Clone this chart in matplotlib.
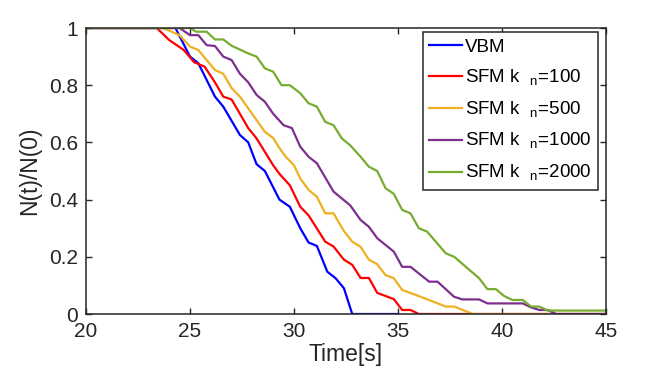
import matplotlib
matplotlib.use("Agg")
import matplotlib.pyplot as plt

plt.rcParams["font.family"] = ["Liberation Sans", "DejaVu Sans"]
plt.rcParams["mathtext.fontset"] = "custom"
plt.rcParams["mathtext.rm"] = "Liberation Sans"

# VBM
t_vbm = [20, 24.3, 25.0, 25.4, 26.2, 26.6, 27.4, 27.8, 28.2, 28.6, 29.3, 29.8,
         30.3, 30.7, 31.1, 31.6, 32.0, 32.4, 32.8, 35.0]
n_vbm = [1, 1, 0.90, 0.877, 0.76, 0.725, 0.626, 0.60, 0.524, 0.50, 0.40, 0.375,
         0.30, 0.25, 0.238, 0.148, 0.125, 0.09, 0, 0]

# SFM kn=100
t_100 = [20, 23.4, 24.0, 24.7, 25.2, 25.7, 26.2, 26.6, 27.0, 27.8, 28.2, 29.0,
         29.3, 29.8, 30.3, 30.7, 31.5, 31.9, 32.4, 32.8, 33.2, 33.6, 34.0, 34.8,
         35.2, 35.6, 36.0, 45]
n_100 = [1, 1, 0.958, 0.923, 0.88, 0.865, 0.81, 0.76, 0.75, 0.65, 0.614, 0.52,
         0.49, 0.45, 0.375, 0.345, 0.253, 0.236, 0.19, 0.172, 0.126, 0.126, 0.074, 0.052,
         0.014, 0.014, 0, 0]

# SFM kn=500
t_500 = [20, 23.7, 24.5, 25.0, 25.4, 26.2, 26.6, 27.0, 27.4, 28.2, 28.6, 29.0,
         29.3, 29.6, 30.0, 30.3, 30.7, 31.1, 31.5, 31.9, 32.4, 32.8, 33.2, 33.6,
         34.0, 34.4, 34.8, 35.2, 36.1, 37.3, 37.7, 38.6, 45]
n_500 = [1, 1, 0.975, 0.935, 0.923, 0.853, 0.84, 0.79, 0.76, 0.678, 0.637, 0.615,
         0.58, 0.55, 0.52, 0.474, 0.434, 0.41, 0.352, 0.352, 0.29, 0.253, 0.235, 0.19,
         0.174, 0.136, 0.125, 0.084, 0.06, 0.026, 0.026, 0, 0]

# SFM kn=1000
t_1000 = [20, 24.5, 25.0, 25.4, 25.8, 26.2, 26.6, 27.0, 27.4, 27.8, 28.2, 28.6,
          29.0, 29.5, 29.9, 30.3, 30.7, 31.1, 31.9, 32.7, 33.2, 33.6, 34.0, 34.8,
          35.2, 35.6, 36.5, 36.9, 37.7, 38.1, 38.9, 39.3, 41.0, 41.4, 41.8, 42.2,
          42.6, 45]
n_1000 = [1, 1, 0.975, 0.975, 0.94, 0.937, 0.90, 0.888, 0.84, 0.81, 0.766, 0.742,
          0.70, 0.66, 0.65, 0.585, 0.55, 0.527, 0.428, 0.38, 0.329, 0.305, 0.265, 0.218,
          0.165, 0.165, 0.113, 0.113, 0.06, 0.051, 0.051, 0.037, 0.037, 0.023, 0.014, 0.014,
          0, 0]

# SFM kn=2000
t_2000 = [20, 25.0, 25.3, 25.8, 26.2, 26.6, 27.0, 27.8, 28.2, 28.6, 29.0, 29.4,
          29.8, 30.3, 30.7, 31.1, 31.5, 31.9, 32.3, 32.7, 33.2, 33.6, 34.0, 34.4,
          34.8, 35.2, 35.6, 36.0, 36.4, 37.3, 37.7, 38.9, 39.3, 39.7, 40.1, 40.5,
          41.0, 41.4, 41.8, 42.2, 45]
n_2000 = [1, 1, 0.987, 0.987, 0.96, 0.96, 0.938, 0.911, 0.90, 0.859, 0.847, 0.80,
          0.80, 0.772, 0.737, 0.725, 0.672, 0.66, 0.614, 0.59, 0.55, 0.515, 0.50, 0.44,
          0.42, 0.364, 0.352, 0.30, 0.288, 0.212, 0.2, 0.125, 0.087, 0.087, 0.063, 0.049,
          0.049, 0.026, 0.026, 0.012, 0.012]

labels = ["VBM", r"SFM k  $_\mathregular{n}$=100", r"SFM k  $_\mathregular{n}$=500",
          r"SFM k  $_\mathregular{n}$=1000", r"SFM k  $_\mathregular{n}$=2000"]
colors = ["#0000ff", "#ff0000", "#edb120", "#7e2f8e", "#77ac30"]

fig = plt.figure(figsize=(6.64, 3.76), dpi=100)
ax = fig.add_axes([86/664, 1 - 314/376, 520/664, 286/376])

data = [(t_vbm, n_vbm), (t_100, n_100), (t_500, n_500), (t_1000, n_1000), (t_2000, n_2000)]
for (t, n), c, lab in zip(data, colors, labels):
    ax.plot(t, n, color=c, lw=1.6, label=lab)

ax.set_xlim(20, 45)
ax.set_ylim(0, 1)
ax.set_xticks([20, 25, 30, 35, 40, 45])
ax.set_yticks([0, 0.2, 0.4, 0.6, 0.8, 1])
ax.set_yticklabels(["0", "0.2", "0.4", "0.6", "0.8", "1"])
ax.tick_params(direction="in", top=True, right=True, length=4, width=1,
               labelsize=15, colors="#262626")
ax.tick_params(axis="x", pad=6)
ax.tick_params(axis="y", pad=5.5)
for s in ax.spines.values():
    s.set_color("#262626")
    s.set_linewidth(1.1)
ax.set_xlabel("Time[s]", fontsize=16.5, color="#262626", labelpad=1)
ax.set_ylabel("N(t)/N(0)", fontsize=16.5, color="#262626", labelpad=5.5)

leg = ax.legend(loc="upper right", bbox_to_anchor=(0.9846, 0.986), borderaxespad=0,
                fontsize=13.5, handlelength=1.75, handletextpad=0.15, labelspacing=0.62,
                borderpad=0.35, fancybox=False, framealpha=1)
leg.get_frame().set_edgecolor("#262626")
leg.get_frame().set_linewidth(1.1)

fig.savefig("out.png", dpi=100)
